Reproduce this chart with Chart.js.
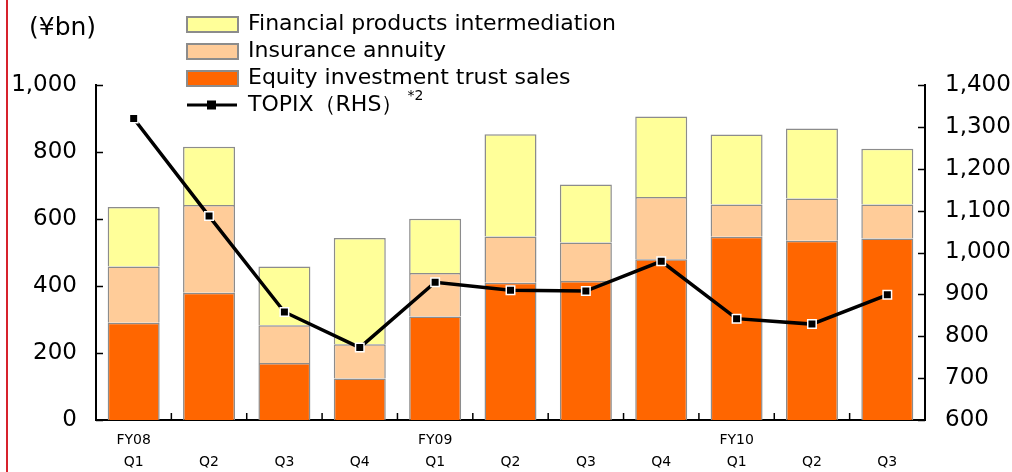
<!DOCTYPE html>
<html>
<head>
<meta charset="utf-8">
<script src="https://cdn.jsdelivr.net/npm/chart.js@4.4.0/dist/chart.umd.min.js"></script>
<style>
  html, body { margin: 0; padding: 0; background: #fff; }
  #wrap { width: 1012px; height: 472px; position: relative; }
</style>
</head>
<body>
<div id="wrap"><canvas id="myChartSales"></canvas></div>
<script>
// data
const fyLabels = ['FY08', '', '', '', 'FY09', '', '', '', 'FY10', '', '']
const quarterLabels = ['Q1', 'Q2', 'Q3', 'Q4', 'Q1', 'Q2', 'Q3', 'Q4', 'Q1', 'Q2', 'Q3']
const equitySales = [290, 380, 170, 124, 309, 410, 415, 480, 547, 535, 542]
const insuranceAnnuity = [168, 262, 113, 102, 130, 138, 115, 186, 96, 126, 101]
const financialProducts = [178, 174, 175, 317, 162, 305, 173, 240, 209, 209, 167]
const topix = [1320, 1087, 858, 773, 929, 910, 908, 979, 842, 829, 899]
const leftTicks = [0, 200, 400, 600, 800, 1000]
const rightTicks = [600, 700, 800, 900, 1000, 1100, 1200, 1300, 1400]

const FONT = "'DejaVu Sans', sans-serif"
const ctxSales = document.getElementById('myChartSales')

const labels = quarterLabels.map((q, i) => [fyLabels[i], q])

// ticks pointing into the plot, plus title, legend and the red frame line
const decorations = {
  id: 'decorations',
  beforeDraw(chart) {
    const ctx = chart.ctx
    ctx.save()
    ctx.fillStyle = '#d7222c'
    ctx.fillRect(6, 0, 2, chart.height)
    ctx.restore()
  },
  afterDatasetsDraw(chart) {
    const { ctx, chartArea, scales } = chart
    ctx.save()
    ctx.strokeStyle = '#000'
    ctx.lineWidth = 1.5
    ctx.beginPath()
    for (let v of leftTicks) {
      let py = Math.round(scales.y.getPixelForValue(v)) + 0.5
      ctx.moveTo(chartArea.left, py)
      ctx.lineTo(chartArea.left + 7, py)
    }
    for (let v of rightTicks) {
      let py = Math.round(scales.y1.getPixelForValue(v)) + 0.5
      ctx.moveTo(chartArea.right, py)
      ctx.lineTo(chartArea.right - 7, py)
    }
    for (let i = 1; i < quarterLabels.length; i++) {
      let px = (scales.x.getPixelForValue(i - 1) + scales.x.getPixelForValue(i)) / 2
      ctx.moveTo(px, chartArea.bottom)
      ctx.lineTo(px, chartArea.bottom - 7)
    }
    ctx.stroke()
    ctx.restore()
  },
  afterDraw(chart) {
    const ctx = chart.ctx
    const ds = chart.data.datasets
    ctx.save()
    ctx.fillStyle = '#000'
    ctx.textBaseline = 'middle'
    ctx.font = '25px ' + FONT
    ctx.fillText('(¥bn)', 29, 28)

    // legend, top to bottom
    const rows = [ds[2], ds[1], ds[0], ds[3]]
    let y = 24
    for (let d of rows) {
      if (d.type === 'line') {
        ctx.strokeStyle = '#000'
        ctx.lineWidth = 3
        ctx.beginPath()
        ctx.moveTo(187, y)
        ctx.lineTo(237, y)
        ctx.stroke()
        ctx.fillStyle = '#000'
        ctx.fillRect(207, y - 4.5, 9, 9)
      } else {
        ctx.fillStyle = d.backgroundColor
        ctx.fillRect(187, y - 7, 51, 15)
        ctx.strokeStyle = '#8c8c8c'
        ctx.lineWidth = 2
        ctx.strokeRect(187, y - 7, 51, 15)
      }
      ctx.fillStyle = '#000'
      ctx.font = '22px ' + FONT
      ctx.fillText(d.label, 248, y)
      if (d.type === 'line') {
        let w = ctx.measureText(d.label).width
        ctx.font = '14px ' + FONT
        ctx.fillText('*2', 248 + w + 4, y - 9)
      }
      y += 27
    }
    ctx.restore()
  }
}

new Chart(ctxSales, {
  data: {
    labels: labels,
    datasets: [{
      type: 'bar',
      label: 'Equity investment trust sales',
      data: equitySales,
      backgroundColor: '#ff6600',
      borderColor: '#8c8c8c',
      borderWidth: 1.5,
      yAxisID: 'y',
      order: 1,
      categoryPercentage: 1,
      barPercentage: 0.69
    }, {
      type: 'bar',
      label: 'Insurance annuity',
      data: insuranceAnnuity,
      backgroundColor: '#ffcc99',
      borderColor: '#8c8c8c',
      borderWidth: 1.5,
      yAxisID: 'y',
      order: 1,
      categoryPercentage: 1,
      barPercentage: 0.69
    }, {
      type: 'bar',
      label: 'Financial products intermediation',
      data: financialProducts,
      backgroundColor: '#ffff99',
      borderColor: '#8c8c8c',
      borderWidth: 1.5,
      yAxisID: 'y',
      order: 1,
      categoryPercentage: 1,
      barPercentage: 0.69
    }, {
      type: 'line',
      label: 'TOPIX（RHS）',
      data: topix,
      borderColor: '#000',
      borderWidth: 3.5,
      pointStyle: 'rect',
      pointRadius: 6,
      pointBackgroundColor: '#000',
      pointBorderColor: '#fff',
      pointBorderWidth: 1.5,
      tension: 0,
      yAxisID: 'y1',
      order: 0
    }]
  },
  plugins: [decorations],
  options: {
    responsive: true,
    maintainAspectRatio: false,
    animation: false,
    layout: { padding: { top: 85, left: 0, right: 0, bottom: 0 } },
    plugins: {
      legend: { display: false },
      tooltip: { enabled: false }
    },
    scales: {
      x: {
        stacked: true,
        grid: { display: false, drawTicks: false },
        border: { display: true, color: '#000', width: 2 },
        ticks: {
          color: '#000',
          padding: 9,
          maxRotation: 0,
          autoSkip: false,
          font: { family: FONT, size: 14, lineHeight: '22px' }
        },
        afterFit(scale) { scale.height = 52 }
      },
      y: {
        stacked: true,
        position: 'left',
        min: 0,
        max: 1000,
        afterBuildTicks(scale) { scale.ticks = leftTicks.map(v => ({ value: v })) },
        grid: { display: false, drawTicks: false },
        border: { display: true, color: '#000', width: 2 },
        ticks: {
          color: '#000',
          padding: 19,
          font: { family: FONT, size: 23 },
          callback: v => v.toLocaleString('en-US')
        },
        afterFit(scale) { scale.width = 96 }
      },
      y1: {
        position: 'right',
        min: 600,
        max: 1400,
        afterBuildTicks(scale) { scale.ticks = rightTicks.map(v => ({ value: v })) },
        grid: { display: false, drawTicks: false },
        border: { display: true, color: '#000', width: 2 },
        ticks: {
          color: '#000',
          padding: 20,
          font: { family: FONT, size: 23 },
          callback: v => v.toLocaleString('en-US')
        },
        afterFit(scale) { scale.width = 87 }
      }
    }
  }
});
</script>
</body>
</html>
